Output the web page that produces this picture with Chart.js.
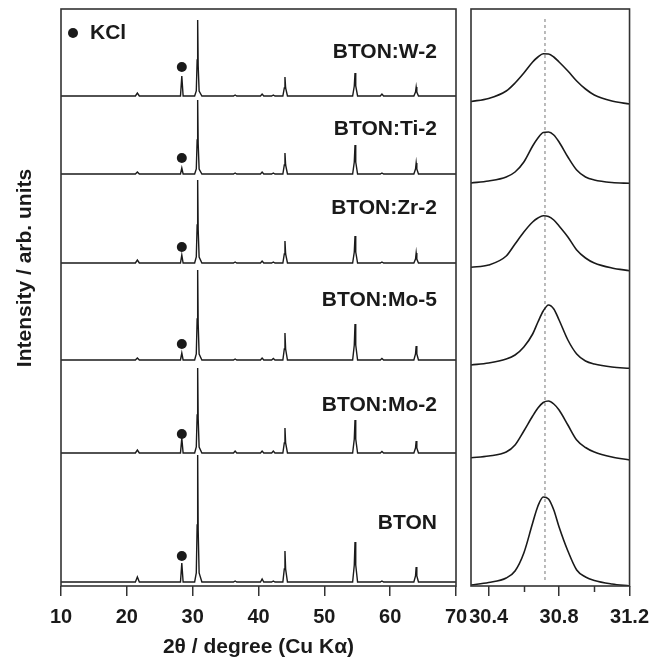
<!DOCTYPE html>
<html><head><meta charset="utf-8">
<script src="https://cdn.jsdelivr.net/npm/chart.js@4/dist/chart.umd.min.js"></script>
<style>
html,body{margin:0;padding:0;background:#fff;}
#wrap{position:relative;width:658px;height:660px;}
canvas{position:absolute;left:0;top:0;}
</style></head><body>
<div id="wrap"><canvas id="left" width="658" height="660"></canvas><canvas id="right" width="658" height="660"></canvas></div>
<script>
// ---------- data ----------
const sampleNames = ['BTON:W-2','BTON:Ti-2','BTON:Zr-2','BTON:Mo-5','BTON:Mo-2','BTON'];
const offsets = [490, 412, 323, 226, 133, 4];           // vertical stacking offsets (arb. units)
const twoTheta = [10, 21.3,21.6,21.9, 28.15,28.35,28.55, 30.3,30.55,30.68,30.76,30.84,30.98,31.4,
  36.2,36.45,36.7, 40.3,40.55,40.8, 42.0,42.25,42.5, 43.7,43.92,44.02,44.12,44.4,
  54.3,54.55,54.66,54.77,55.05, 58.5,58.75,59.0, 63.6,63.85,63.95,64.05,64.3, 70];
const intW2  = [0, 0,3,0, 0,20,0, 0,5,36,76,30,5,0, 0,1,0, 0,2,0, 0,1,0, 0,8,19,8,0, 0,10,23,10,0, 0,2,0, 0,4,9,4,0, 0];
const intTi2 = [0, 0,2,0, 0,6,0, 0,5,34,74,30,5,0, 0,1,0, 0,2,0, 0,1,0, 0,9,21,9,0, 0,12,29,12,0, 0,1,0, 0,5,11,5,0, 0];
const intZr2 = [0, 0,3,0, 0,8,0, 0,6,38,83,33,6,0, 0,1,0, 0,2,0, 0,1,0, 0,9,22,9,0, 0,11,27,11,0, 0,1,0, 0,4,10,4,0, 0];
const intMo5 = [0, 0,2,0, 0,7,0, 0,6,41,90,36,6,0, 0,1,0, 0,2,0, 0,1.5,0, 0,11,27,11,0, 0,15,36,15,0, 0,1.5,0, 0,6,14,6,0, 0];
const intMo2 = [0, 0,3,0, 0,15,0, 0,6,38,85,34,6,0, 0,2,0, 0,2,0, 0,2,0, 0,10,25,10,0, 0,14,33,14,0, 0,1.5,0, 0,5,12,5,0, 0];
const intBTON= [0, 0,5,0, 0,19,0, 0,9,57,127,51,9,0, 0,1,0, 0,3,0, 0,1,0, 0,13,31,13,0, 0,17,40,17,0, 0,1,0, 0,6,15,6,0, 0];
const kclTheta = 28.35;
const kclMarkY = [519, 428, 339, 242, 152, 30];

const zoomTheta = [30.30,30.40,30.50,30.55,30.60,30.65,30.68,30.71,30.74,30.77,30.80,30.85,30.90,30.95,31.00,31.10,31.20];
const zoomW2  = [484.5,487.5,495,503,513,524,529,532.2,532,529,524,515,505,497,491,485,482];
const zoomTi2 = [403,405,409,414,424,440,448,453.5,454,451,444,429,416,409,406,403.5,402.7];
const zoomZr2 = [318.7,321,330,342,354,364,368,370.2,369.5,366,360,349,336,328,323,318,315.3];
const zoomMo5 = [221,223,227,231,239,252,264,275,281,277,266,246,232,225,222,219,217.7];
const zoomMo2 = [128.3,130,134,141,155,170,178,183.5,185,182,176,161,146,138.5,134,129,126];
const zoomBTON= [1,3.5,8,15,33,63,80,89,87,76,59,35,16,9,5.5,2,0];
const refTheta = 30.72;

const leftTicks = [10,20,30,40,50,60,70];
const rightTicks = [30.4,30.6,30.8,31.0,31.2];
const rightLabeled = [30.4,30.8,31.2];

// ---------- layout / style ----------
const labelTheta = 67.1;
const labelY = [534, 457, 378, 286, 181, 63];
const yTitle = {text:'Intensity / arb. units', x:25, y:268};
const FONT = "'Liberation Sans', Arial, sans-serif";
const INK = '#1a1a1a';
Chart.defaults.font.family = FONT;
Chart.defaults.font.weight = 'bold';
Chart.defaults.color = INK;

const leftInts = [intW2,intTi2,intZr2,intMo5,intMo2,intBTON];
const zoomSets = [zoomW2,zoomTi2,zoomZr2,zoomMo5,zoomMo2,zoomBTON];

const framePlugin = {
  id:'frame',
  afterDraw(chart){
    const {ctx, chartArea:a} = chart;
    ctx.save(); ctx.strokeStyle='#333'; ctx.lineWidth=1.6;
    ctx.strokeRect(a.left, a.top, a.right-a.left, a.bottom-a.top);
    ctx.restore();
  }
};

const leftText = {
  id:'leftText',
  afterDatasetsDraw(chart){
    const {ctx, scales:{x,y}} = chart;
    ctx.save();
    ctx.fillStyle = INK;
    ctx.font = "bold 21px " + FONT;
    ctx.textAlign='right'; ctx.textBaseline='middle';
    sampleNames.forEach((n,i)=>{
      ctx.fillText(n, x.getPixelForValue(labelTheta), y.getPixelForValue(labelY[i]));
    });
    // KCl legend
    const lx = x.getPixelForValue(11.82), ly = y.getPixelForValue(553);
    ctx.beginPath(); ctx.arc(lx, ly, 5, 0, Math.PI*2); ctx.fill();
    ctx.textAlign='left';
    ctx.fillText('KCl', lx+17, ly);
    // y-axis title
    ctx.translate(yTitle.x, yTitle.y);
    ctx.rotate(-Math.PI/2);
    ctx.textAlign='center';
    ctx.fillText(yTitle.text, 0, 0);
    ctx.restore();
  }
};

const minorTicks = {
  id:'minorTicks',
  afterDraw(chart){
    const {ctx, scales:{x}, chartArea:a} = chart;
    ctx.save(); ctx.strokeStyle='#333'; ctx.lineWidth=1.5;
    rightTicks.filter(v=>!rightLabeled.some(m=>Math.abs(m-v)<1e-6)).forEach(v=>{
      const px = Math.round(x.getPixelForValue(v))+0.5;
      ctx.beginPath(); ctx.moveTo(px, a.bottom); ctx.lineTo(px, a.bottom+6); ctx.stroke();
    });
    ctx.restore();
  }
};

const tickFont = {size:20, weight:'bold', family:FONT};

new Chart(document.getElementById('left'), {
  type:'line',
  data:{
    datasets: leftInts.map((arr,i)=>({
      label: sampleNames[i],
      data: twoTheta.map((t,j)=>({x:t, y:offsets[i]+arr[j]})),
      borderColor: INK, borderWidth:1.4, pointRadius:0, tension:0, fill:false
    })).concat([{
      label:'KCl', type:'scatter',
      data: kclMarkY.map(v=>({x:kclTheta, y:v})),
      pointRadius:5, pointBackgroundColor:INK, pointBorderWidth:0, showLine:false
    }])
  },
  options:{
    responsive:false, animation:false, devicePixelRatio:1,
    layout:{padding:{left:0,right:202,top:9,bottom:0}},
    plugins:{legend:{display:false}, tooltip:{enabled:false}},
    scales:{
      x:{type:'linear', min:10, max:70,
        afterBuildTicks(s){ s.ticks = leftTicks.map(v=>({value:v})); },
        afterFit(s){ s.height = 74; },
        ticks:{font:tickFont, color:INK, padding:9, maxRotation:0, autoSkip:false},
        grid:{display:true, drawOnChartArea:false, drawTicks:true, tickLength:10, color:'#333', lineWidth:1.5},
        border:{display:false},
        title:{display:true, text:'2θ / degree (Cu Kα)', font:{size:21, weight:'bold', family:FONT, lineHeight:1.2}, color:INK, padding:{top:0,bottom:0}}
      },
      y:{type:'linear', min:0, max:577,
        afterFit(s){ s.width = 61; },
        ticks:{display:false}, grid:{display:false}, border:{display:false},
        title:{display:false}
      }
    }
  },
  plugins:[framePlugin, leftText]
});

new Chart(document.getElementById('right'), {
  type:'line',
  data:{
    datasets: zoomSets.map((arr,i)=>({
      label: sampleNames[i],
      data: zoomTheta.map((t,j)=>({x:t, y:arr[j]})),
      borderColor: INK, borderWidth:1.6, pointRadius:0, cubicInterpolationMode:'monotone', fill:false
    })).concat([{
      label:'ref',
      data:[{x:refTheta, y:6},{x:refTheta, y:570}],
      borderColor:'#777', borderWidth:1, borderDash:[3,3], pointRadius:0
    }])
  },
  options:{
    responsive:false, animation:false, devicePixelRatio:1,
    layout:{padding:{left:471,right:24,top:9,bottom:0}},
    plugins:{legend:{display:false}, tooltip:{enabled:false}},
    scales:{
      x:{type:'linear', min:30.3, max:31.2,
        afterBuildTicks(s){ s.ticks = rightTicks.map(v=>({value:v})); },
        afterFit(s){ s.height = 74; },
        ticks:{font:tickFont, color:INK, padding:9, maxRotation:0, autoSkip:false,
          callback:(v)=> rightLabeled.some(m=>Math.abs(m-v)<1e-6) ? Number(v).toFixed(1) : ''},
        grid:{display:true, drawOnChartArea:false, drawTicks:true, tickLength:10, lineWidth:1.5,
          color:(c)=> (c.tick && rightLabeled.some(m=>Math.abs(m-c.tick.value)<1e-6)) ? '#333' : 'rgba(0,0,0,0)'},
        border:{display:false}
      },
      y:{type:'linear', min:0, max:577, display:false}
    }
  },
  plugins:[framePlugin, minorTicks]
});
</script>
</body></html>
